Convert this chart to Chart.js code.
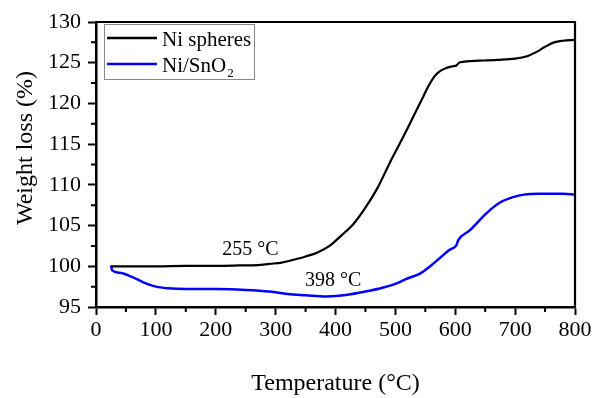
<!DOCTYPE html>
<html>
<head>
<meta charset="utf-8">
<script src="https://cdn.jsdelivr.net/npm/chart.js@4/dist/chart.umd.min.js"></script>
<style>
html,body{margin:0;padding:0;background:#fff;}
#wrap{width:594px;height:398px;}
</style>
</head>
<body>
<div id="wrap"><canvas id="c" width="594" height="398"></canvas></div>
<script>
// ---- data ----
const niTemp   = [25, 40, 60, 100, 150, 200, 240, 270, 290, 310, 330, 350, 370, 390, 410, 430, 450, 470, 490, 510, 520, 530, 545, 555, 565, 575, 585, 595, 602, 605, 608, 640, 670, 700, 720, 735, 750, 765, 780, 800];
const niWeight = [100.0, 100.0, 100.0, 100.0, 100.05, 100.05, 100.1, 100.15, 100.3, 100.45, 100.8, 101.2, 101.7, 102.5, 103.8, 105.2, 107.2, 109.6, 112.6, 115.45, 116.9, 118.4, 120.6, 122.1, 123.3, 124.0, 124.35, 124.55, 124.65, 124.9, 125.05, 125.25, 125.35, 125.5, 125.8, 126.3, 126.95, 127.5, 127.7, 127.8];
const snTemp   = [25, 27, 40, 60, 80, 100, 120, 150, 200, 250, 290, 320, 350, 385, 420, 450, 480, 502, 520, 541, 558, 574, 590, 602, 605, 624, 652, 674, 697, 715, 740, 780, 800];
const snWeight = [100.1, 99.5, 99.2, 98.7, 98.0, 97.5, 97.3, 97.2, 97.2, 97.1, 96.9, 96.6, 96.45, 96.3, 96.5, 96.9, 97.4, 97.9, 98.5, 99.1, 100.0, 101.0, 102.0, 102.6, 103.2, 104.4, 106.5, 107.8, 108.5, 108.8, 108.9, 108.9, 108.8];
const seriesNames = ['Ni spheres', 'Ni/SnO'];
const seriesSub = ['', '2'];
const xTicks = [0, 100, 200, 300, 400, 500, 600, 700, 800];
const yTicks = [95, 100, 105, 110, 115, 120, 125, 130];
const xMinor = [50, 150, 250, 350, 450, 550, 650, 750];
const yMinor = [97.5, 102.5, 107.5, 112.5, 117.5, 122.5, 127.5];
const noteText = ['255 \u00B0C', '398 \u00B0C'];
const noteX = [258, 396];
const noteY = [101.4, 97.55];
const xTitle = 'Temperature (\u00B0C)';
const yTitle = 'Weight loss (%)';

const FONT = '"Liberation Serif", "Times New Roman", serif';

const decor = {
  id: 'decor',
  afterDraw(chart) {
    const {ctx, chartArea: a, scales: {x, y}} = chart;
    ctx.save();
    // frame top/right
    ctx.strokeStyle = '#000';
    ctx.lineWidth = 2.2;
    ctx.beginPath();
    ctx.moveTo(a.left, a.top); ctx.lineTo(a.right, a.top); ctx.lineTo(a.right, a.bottom);
    ctx.stroke();
    // minor ticks
    ctx.lineWidth = 2;
    ctx.beginPath();
    xMinor.forEach(v => { const p = x.getPixelForValue(v); ctx.moveTo(p, a.bottom); ctx.lineTo(p, a.bottom + 5); });
    yMinor.forEach(v => { const p = y.getPixelForValue(v); ctx.moveTo(a.left, p); ctx.lineTo(a.left - 5, p); });
    ctx.stroke();
    // annotations
    ctx.fillStyle = '#000';
    ctx.font = '20px ' + FONT;
    ctx.textAlign = 'center';
    ctx.textBaseline = 'alphabetic';
    noteText.forEach((t, i) => ctx.fillText(t, x.getPixelForValue(noteX[i]), y.getPixelForValue(noteY[i])));
    // axis titles
    ctx.font = '24px ' + FONT;
    ctx.textBaseline = 'middle';
    ctx.fillText(xTitle, (a.left + a.right) / 2, 384);
    ctx.save();
    ctx.translate(26, 148);
    ctx.rotate(-Math.PI / 2);
    ctx.fillText(yTitle, 0, 0);
    ctx.restore();
    // legend
    const lx = a.left + 8, ly = a.top + 2, lw = 150, lh = 55;
    ctx.strokeStyle = '#8a8a8a';
    ctx.lineWidth = 1;
    ctx.strokeRect(lx + 0.5, ly + 0.5, lw, lh);
    const rows = [ly + 14, ly + 40];
    chart.data.datasets.forEach((ds, i) => {
      ctx.strokeStyle = ds.borderColor;
      ctx.lineWidth = 2.5;
      ctx.beginPath();
      ctx.moveTo(lx + 3, rows[i]); ctx.lineTo(lx + 53, rows[i]);
      ctx.stroke();
      ctx.fillStyle = '#000';
      ctx.font = '21px ' + FONT;
      ctx.textAlign = 'left';
      ctx.textBaseline = 'alphabetic';
      const tx = lx + 58, ty = rows[i] + 8;
      ctx.fillText(seriesNames[i], tx, ty);
      if (seriesSub[i]) {
        const w = ctx.measureText(seriesNames[i]).width;
        ctx.font = '13px ' + FONT;
        ctx.fillText(seriesSub[i], tx + w + 1, ty + 5);
      }
    });
    ctx.restore();
  }
};

new Chart(document.getElementById('c'), {
  type: 'line',
  data: {
    datasets: [
      { label: seriesNames[0], data: niTemp.map((t, i) => ({x: t, y: niWeight[i]})),
        borderColor: '#000000', borderWidth: 2.2, pointRadius: 0, cubicInterpolationMode: 'monotone', fill: false },
      { label: seriesNames[1] + seriesSub[1], data: snTemp.map((t, i) => ({x: t, y: snWeight[i]})),
        borderColor: '#0000ff', borderWidth: 2.5, pointRadius: 0, cubicInterpolationMode: 'monotone', fill: false }
    ]
  },
  options: {
    responsive: false,
    animation: false,
    layout: { padding: { left: 0, top: 22, right: 19, bottom: 0 } },
    plugins: { legend: { display: false }, tooltip: { enabled: false } },
    scales: {
      x: {
        type: 'linear', min: 0, max: 800,
        afterBuildTicks: s => { s.ticks = xTicks.map(v => ({value: v})); },
        afterFit: s => { s.height = 91; },
        ticks: { color: '#000', font: { family: FONT, size: 22 }, padding: 2, maxRotation: 0 },
        grid: { drawOnChartArea: false, drawTicks: true, tickLength: 8, tickWidth: 2, tickColor: '#000' },
        border: { display: true, color: '#000', width: 2.5 }
      },
      y: {
        type: 'linear', min: 95, max: 130,
        afterBuildTicks: s => { s.ticks = yTicks.map(v => ({value: v})); },
        afterFit: s => { s.width = 96; },
        ticks: { color: '#000', font: { family: FONT, size: 22 }, padding: 7 },
        grid: { drawOnChartArea: false, drawTicks: true, tickLength: 8, tickWidth: 2, tickColor: '#000' },
        border: { display: true, color: '#000', width: 2.5 }
      }
    }
  },
  plugins: [decor]
});
</script>
</body>
</html>
